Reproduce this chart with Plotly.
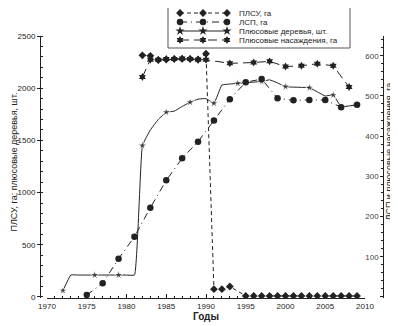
import plotly.graph_objects as go

# ---- data ----
years_plsu = [1982, 1983, 1984, 1985, 1986, 1987, 1988, 1989, 1990, 1991, 1992, 1993,
              1995, 1996, 1997, 1998, 1999, 2000, 2001, 2002, 2003, 2004, 2005, 2006, 2007, 2008, 2009]
plsu = [2315, 2310, 2270, 2275, 2280, 2280, 2280, 2275, 2330, 75, 75, 100,
        10, 10, 10, 10, 10, 10, 10, 10, 10, 10, 10, 10, 10, 10, 10]

years_lsp = [1975, 1977, 1979, 1981, 1983, 1985, 1987, 1989, 1991, 1993, 1995, 1997,
             1999, 2001, 2003, 2005, 2007, 2009]
lsp = [5, 34, 95, 150, 222, 290, 345, 386, 439, 492, 534, 542,
       494, 489, 490, 490, 472, 478]

years_trees = [1972, 1973, 1974, 1975, 1976, 1977, 1978, 1979, 1980, 1981, 1982, 1983,
               1984, 1985, 1986, 1987, 1988, 1989, 1990, 1991, 1992, 1993, 1994, 1995,
               1996, 1997, 1998, 1999, 2000, 2001, 2002, 2003, 2004, 2005, 2006, 2007,
               2008, 2009]
trees = [60, 210, 210, 210, 210, 210, 210, 210, 210, 210, 1450, 1600,
         1700, 1770, 1780, 1825, 1865, 1895, 1900, 1855, 2030, 2040, 2047, 2052,
         2058, 2065, 2080, 2050, 2015, 2010, 2008, 2005, 1965, 1925, 1935, 1823,
         1830, 1840]
trees_marked = [1972, 1976, 1979, 1982, 1985, 1988, 1991, 1994, 1997, 2000, 2003, 2006, 2007, 2009]

years_plant = [1982, 1983, 1984, 1985, 1986, 1987, 1988, 1989, 1990, 1993, 1996, 1998,
               2000, 2002, 2004, 2006, 2008]
plant = [547, 590, 590, 592, 592, 593, 592, 590, 590, 581, 583, 586,
         573, 575, 580, 575, 522]

series_names = ["ПЛСУ, га", "ЛСП, га", "Плюсовые деревья, шт.", "Плюсовые насаждения, га"]
left_title = "ПЛСУ, га; плюсовые деревья, шт."
right_title = "ЛСП и плюсовые насаждения, га"
x_title = "Годы"

x_ticks = list(range(1970, 2011, 5))
y_left_ticks = list(range(0, 2501, 500))
y_right_ticks = list(range(0, 601, 100))

INK = "#222222"
OFF = 8                 # page body margin of the html page
W, H = 398 - OFF, 326 - OFF


def fx(px):   # window pixel -> paper fraction (x)
    return (px - OFF) / W


def fy(py):   # window pixel -> paper fraction (y)
    return (H - (py - OFF)) / H


styles = [
    dict(line=dict(color=INK, width=1, dash="4px,3px"),
         marker=dict(symbol="diamond", size=6, color=INK)),
    dict(line=dict(color=INK, width=1, dash="7px,4px,1px,4px"),
         marker=dict(symbol="circle", size=6.5, color=INK)),
    dict(line=dict(color=INK, width=1),
         marker=dict(symbol="star", size=7, color=INK)),
    dict(line=dict(color=INK, width=1, dash="9px,5px"),
         marker=dict(symbol="hexagram", size=6, color=INK)),
]

fig = go.Figure()
fig.add_trace(go.Scatter(
    x=years_plsu, y=plsu, name=series_names[0], mode="lines+markers",
    line=styles[0]["line"], marker=styles[0]["marker"]))
fig.add_trace(go.Scatter(
    x=years_lsp, y=lsp, name=series_names[1], mode="lines+markers", yaxis="y2",
    line=styles[1]["line"], marker=styles[1]["marker"]))
fig.add_trace(go.Scatter(
    x=years_trees, y=trees, name=series_names[2], mode="lines+markers",
    line=dict(color=INK, width=1, shape="spline", smoothing=0.3),
    marker=dict(symbol="star", size=[7 if yr in trees_marked else 0 for yr in years_trees],
                color=INK)))
fig.add_trace(go.Scatter(
    x=years_plant, y=plant, name=series_names[3], mode="lines+markers", yaxis="y2",
    line=styles[3]["line"], marker=styles[3]["marker"]))

# ---- compact legend drawn in a window-pixel overlay axis ----
leg_box = dict(x0=168, x1=350, y0=0, y1=48)
leg_rows = [13, 22, 31, 40]
leg_key_x = [180, 203, 227]
leg_text_x = 237
fig.add_shape(type="rect", xref="x3", yref="y3", layer="below",
              x0=leg_box["x0"], x1=leg_box["x1"], y0=leg_box["y0"], y1=leg_box["y1"],
              line=dict(color="#555555", width=1), fillcolor="white")
for i, name in enumerate(series_names):
    st = styles[i]
    fig.add_trace(go.Scatter(
        x=leg_key_x, y=[leg_rows[i]] * 3, xaxis="x3", yaxis="y3", mode="lines+markers",
        line=st["line"], marker=st["marker"], showlegend=False, hoverinfo="skip"))
    fig.add_annotation(x=leg_text_x, y=leg_rows[i], xref="x3", yref="y3", text=name,
                       showarrow=False, xanchor="left", yanchor="middle",
                       font=dict(size=8, color=INK))

# ---- axis titles as rotated annotations ----
fig.add_annotation(x=13.5, y=162, xref="x3", yref="y3", text=left_title, textangle=-90,
                   showarrow=False, xanchor="center", yanchor="middle",
                   font=dict(size=9, color=INK))
fig.add_annotation(x=388.5, y=152, xref="x3", yref="y3", text=right_title, textangle=-90,
                   showarrow=False, xanchor="center", yanchor="middle",
                   font=dict(size=9, color=INK))

plot_dom_y = [fy(298), fy(36)]

fig.update_layout(
    width=W, height=H,
    margin=dict(l=0, r=0, t=0, b=0),
    plot_bgcolor="rgba(0,0,0,0)", paper_bgcolor="white",
    font=dict(family="Liberation Sans, Arial, sans-serif", size=8, color=INK),
    showlegend=False,
    xaxis=dict(domain=[fx(47), fx(365)], range=[1970, 2010], anchor="y",
               tickmode="array", tickvals=x_ticks, ticks="inside", ticklen=4,
               tickcolor=INK, showline=True, linecolor=INK, linewidth=1,
               showgrid=False, zeroline=False,
               minor=dict(tickmode="array", tickvals=list(range(1970, 2011)),
                          ticks="inside", ticklen=2, tickcolor=INK),
               title=dict(text="<b>" + x_title + "</b>", font=dict(size=10), standoff=0),
               automargin=False),
    yaxis=dict(domain=plot_dom_y, anchor="free", position=fx(40),
               range=[-10, 2500],
               tickmode="array", tickvals=y_left_ticks, ticks="outside", ticklen=3,
               tickcolor=INK, showline=True, linecolor=INK, linewidth=1,
               showgrid=False, zeroline=False,
               minor=dict(dtick=100, tick0=0, ticks="inside", ticklen=2, tickcolor=INK),
               automargin=False),
    yaxis2=dict(domain=plot_dom_y, overlaying="y", side="right",
                anchor="free", position=fx(383),
                range=[-2.5, 649], tickmode="array", tickvals=y_right_ticks,
                ticks="inside", ticklen=3, ticklabelposition="inside",
                tickcolor=INK, showline=True, linecolor=INK, linewidth=1,
                showgrid=False, zeroline=False,
                minor=dict(dtick=20, tick0=0, ticks="inside", ticklen=2, tickcolor=INK),
                automargin=False),
    xaxis3=dict(domain=[0, 1], range=[OFF, W + OFF], visible=False, fixedrange=True, anchor="y3"),
    yaxis3=dict(domain=[0, 1], range=[H + OFF, OFF], visible=False, fixedrange=True, anchor="x3"),
)

fig.write_html("out.html")
